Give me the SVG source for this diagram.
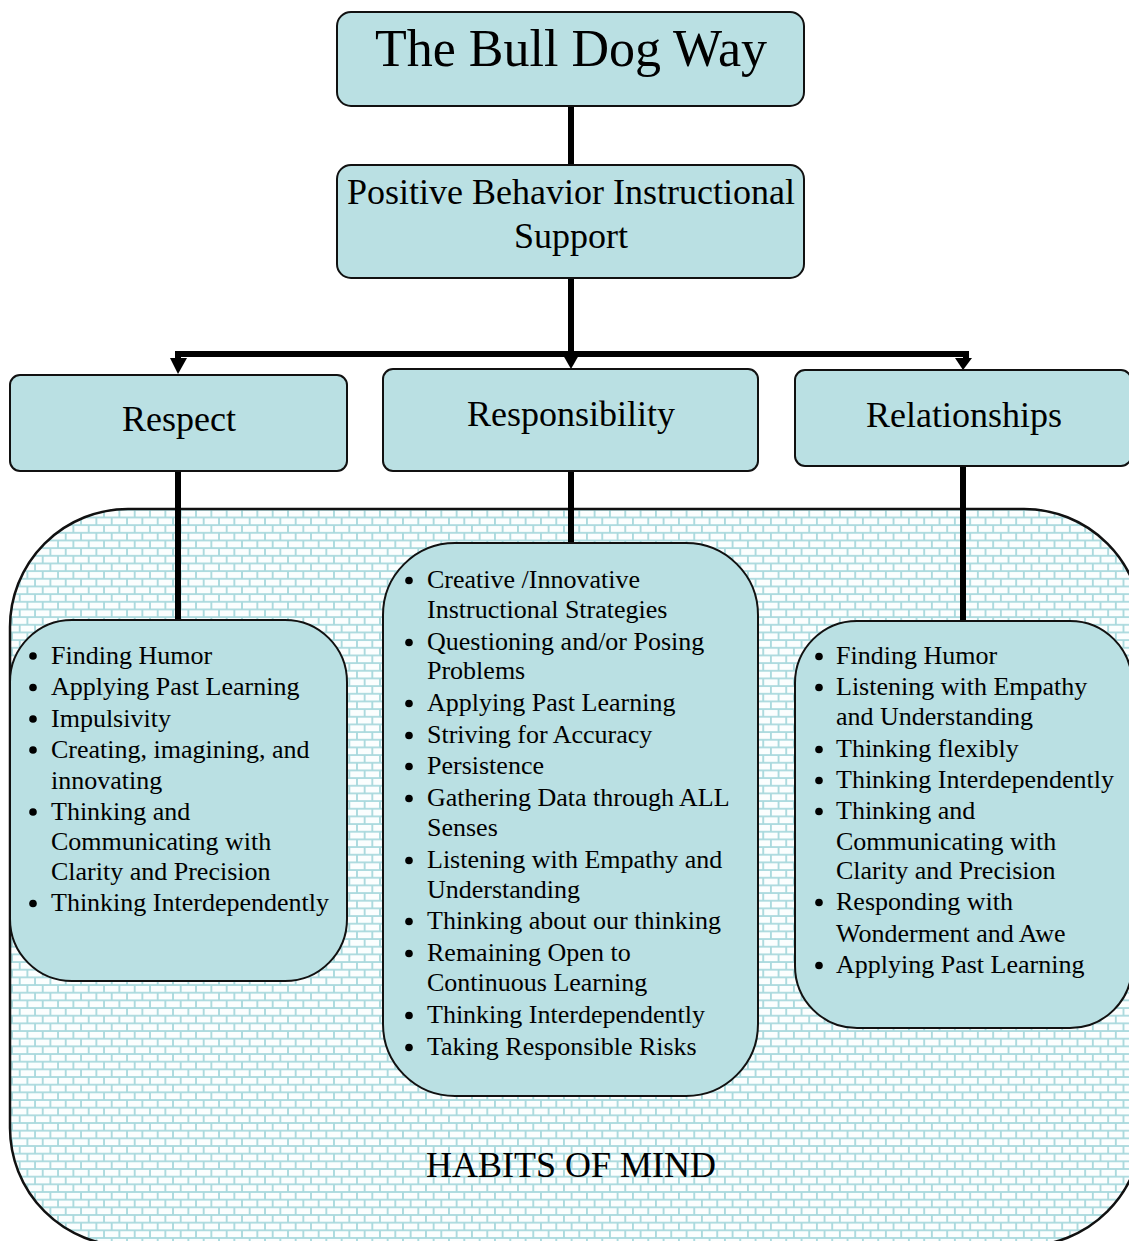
<svg xmlns="http://www.w3.org/2000/svg" width="1129" height="1241" viewBox="0 0 1129 1241">
<style>
.box{fill:#bae0e3;stroke:#111;stroke-width:2}
.t{font-family:"Liberation Serif","Times New Roman",serif;fill:#000}
.h{font-size:36px;text-anchor:middle}
.li{font-size:26px}
.conn{stroke:#000;stroke-width:6;fill:none}
.bul{fill:#000}
</style>
<defs>
<pattern id="brick" patternUnits="userSpaceOnUse" x="357" y="1100" width="15.33" height="15.33">
<rect width="15.33" height="15.33" fill="#a9d9dd"/>
<rect x="0.9" y="0.9" width="13.5" height="5.9" fill="#fbfefe"/>
<rect x="8.56" y="8.56" width="13.5" height="5.9" fill="#fbfefe"/>
<rect x="-6.77" y="8.56" width="13.5" height="5.9" fill="#fbfefe"/>
</pattern>
</defs>

<g id="habits">
<rect x="10" y="509" width="1132" height="737" rx="118" ry="118" fill="url(#brick)" stroke="#111" stroke-width="2.5"/>
<text class="t h" x="571" y="1177">HABITS OF MIND</text>
</g>

<g id="connectors">
<path class="conn" d="M571 106 V165"/>
<path class="conn" d="M571 278 V356"/>
<path class="conn" d="M178 360 V354 H966 V360"/>
<polygon points="170,358 187,358 178,374" fill="#000"/>
<polygon points="563,355 579,355 571,369" fill="#000"/>
<polygon points="955,358 972,358 963,370" fill="#000"/>
<path class="conn" d="M178 471 V620" stroke-width="5"/>
<path class="conn" d="M571 471 V543" stroke-width="5"/>
<path class="conn" d="M963 466 V621" stroke-width="5"/>
</g>

<g id="title">
<rect class="box" x="337" y="12" width="467" height="94" rx="14"/>
<text class="t" x="571" y="66" font-size="52" text-anchor="middle">The Bull Dog Way</text>
</g>

<g id="pbis">
<rect class="box" x="337" y="165" width="467" height="113" rx="14"/>
<text class="t h" x="571" y="204">Positive Behavior Instructional</text>
<text class="t h" x="571" y="248">Support</text>
</g>

<g id="respect">
<rect class="box" x="10" y="375" width="337" height="96" rx="10"/>
<text class="t h" x="179" y="431">Respect</text>
</g>

<g id="responsibility">
<rect class="box" x="383" y="369" width="375" height="102" rx="10"/>
<text class="t h" x="571" y="426">Responsibility</text>
</g>

<g id="relationships">
<rect class="box" x="795" y="370" width="336" height="96" rx="10"/>
<text class="t h" x="964" y="427">Relationships</text>
</g>

<g id="respect-list">
<rect class="box" x="10" y="620" width="337" height="361" rx="62"/>
<g class="bul">
<circle cx="33" cy="656" r="3.8"/>
<circle cx="33" cy="687.5" r="3.8"/>
<circle cx="33" cy="719" r="3.8"/>
<circle cx="33" cy="750" r="3.8"/>
<circle cx="33" cy="812" r="3.8"/>
<circle cx="33" cy="903.5" r="3.8"/>
</g>
<text class="t li" x="51" y="663.5">Finding Humor</text>
<text class="t li" x="51" y="695">Applying Past Learning</text>
<text class="t li" x="51" y="726.5">Impulsivity</text>
<text class="t li" x="51" y="757.5">Creating, imagining, and</text>
<text class="t li" x="51" y="788.5">innovating</text>
<text class="t li" x="51" y="819.5">Thinking and</text>
<text class="t li" x="51" y="850">Communicating with</text>
<text class="t li" x="51" y="880">Clarity and Precision</text>
<text class="t li" x="51" y="911">Thinking Interdependently</text>
</g>

<g id="responsibility-list">
<rect class="box" x="383" y="543" width="375" height="553" rx="72"/>
<g class="bul">
<circle cx="409" cy="580.5" r="3.8"/>
<circle cx="409" cy="642.5" r="3.8"/>
<circle cx="409" cy="703.5" r="3.8"/>
<circle cx="409" cy="735.5" r="3.8"/>
<circle cx="409" cy="766.5" r="3.8"/>
<circle cx="409" cy="798.5" r="3.8"/>
<circle cx="409" cy="860.5" r="3.8"/>
<circle cx="409" cy="921.5" r="3.8"/>
<circle cx="409" cy="953.5" r="3.8"/>
<circle cx="409" cy="1015.5" r="3.8"/>
<circle cx="409" cy="1047.5" r="3.8"/>
</g>
<text class="t li" x="427" y="588">Creative /Innovative</text>
<text class="t li" x="427" y="618">Instructional Strategies</text>
<text class="t li" x="427" y="650">Questioning and/or Posing</text>
<text class="t li" x="427" y="679">Problems</text>
<text class="t li" x="427" y="711">Applying Past Learning</text>
<text class="t li" x="427" y="743">Striving for Accuracy</text>
<text class="t li" x="427" y="774">Persistence</text>
<text class="t li" x="427" y="806">Gathering Data through ALL</text>
<text class="t li" x="427" y="836">Senses</text>
<text class="t li" x="427" y="868">Listening with Empathy and</text>
<text class="t li" x="427" y="898">Understanding</text>
<text class="t li" x="427" y="929">Thinking about our thinking</text>
<text class="t li" x="427" y="961">Remaining Open to</text>
<text class="t li" x="427" y="991">Continuous Learning</text>
<text class="t li" x="427" y="1023">Thinking Interdependently</text>
<text class="t li" x="427" y="1055">Taking Responsible Risks</text>
</g>

<g id="relationships-list">
<rect class="box" x="795" y="621" width="337" height="407" rx="62"/>
<g class="bul">
<circle cx="819" cy="656.5" r="3.8"/>
<circle cx="819" cy="687.5" r="3.8"/>
<circle cx="819" cy="749.5" r="3.8"/>
<circle cx="819" cy="780.5" r="3.8"/>
<circle cx="819" cy="811.5" r="3.8"/>
<circle cx="819" cy="902.5" r="3.8"/>
<circle cx="819" cy="965.5" r="3.8"/>
</g>
<text class="t li" x="836" y="664">Finding Humor</text>
<text class="t li" x="836" y="695">Listening with Empathy</text>
<text class="t li" x="836" y="725">and Understanding</text>
<text class="t li" x="836" y="757">Thinking flexibly</text>
<text class="t li" x="836" y="788">Thinking Interdependently</text>
<text class="t li" x="836" y="819">Thinking and</text>
<text class="t li" x="836" y="850">Communicating with</text>
<text class="t li" x="836" y="879">Clarity and Precision</text>
<text class="t li" x="836" y="910">Responding with</text>
<text class="t li" x="836" y="942">Wonderment and Awe</text>
<text class="t li" x="836" y="973">Applying Past Learning</text>
</g>
</svg>
